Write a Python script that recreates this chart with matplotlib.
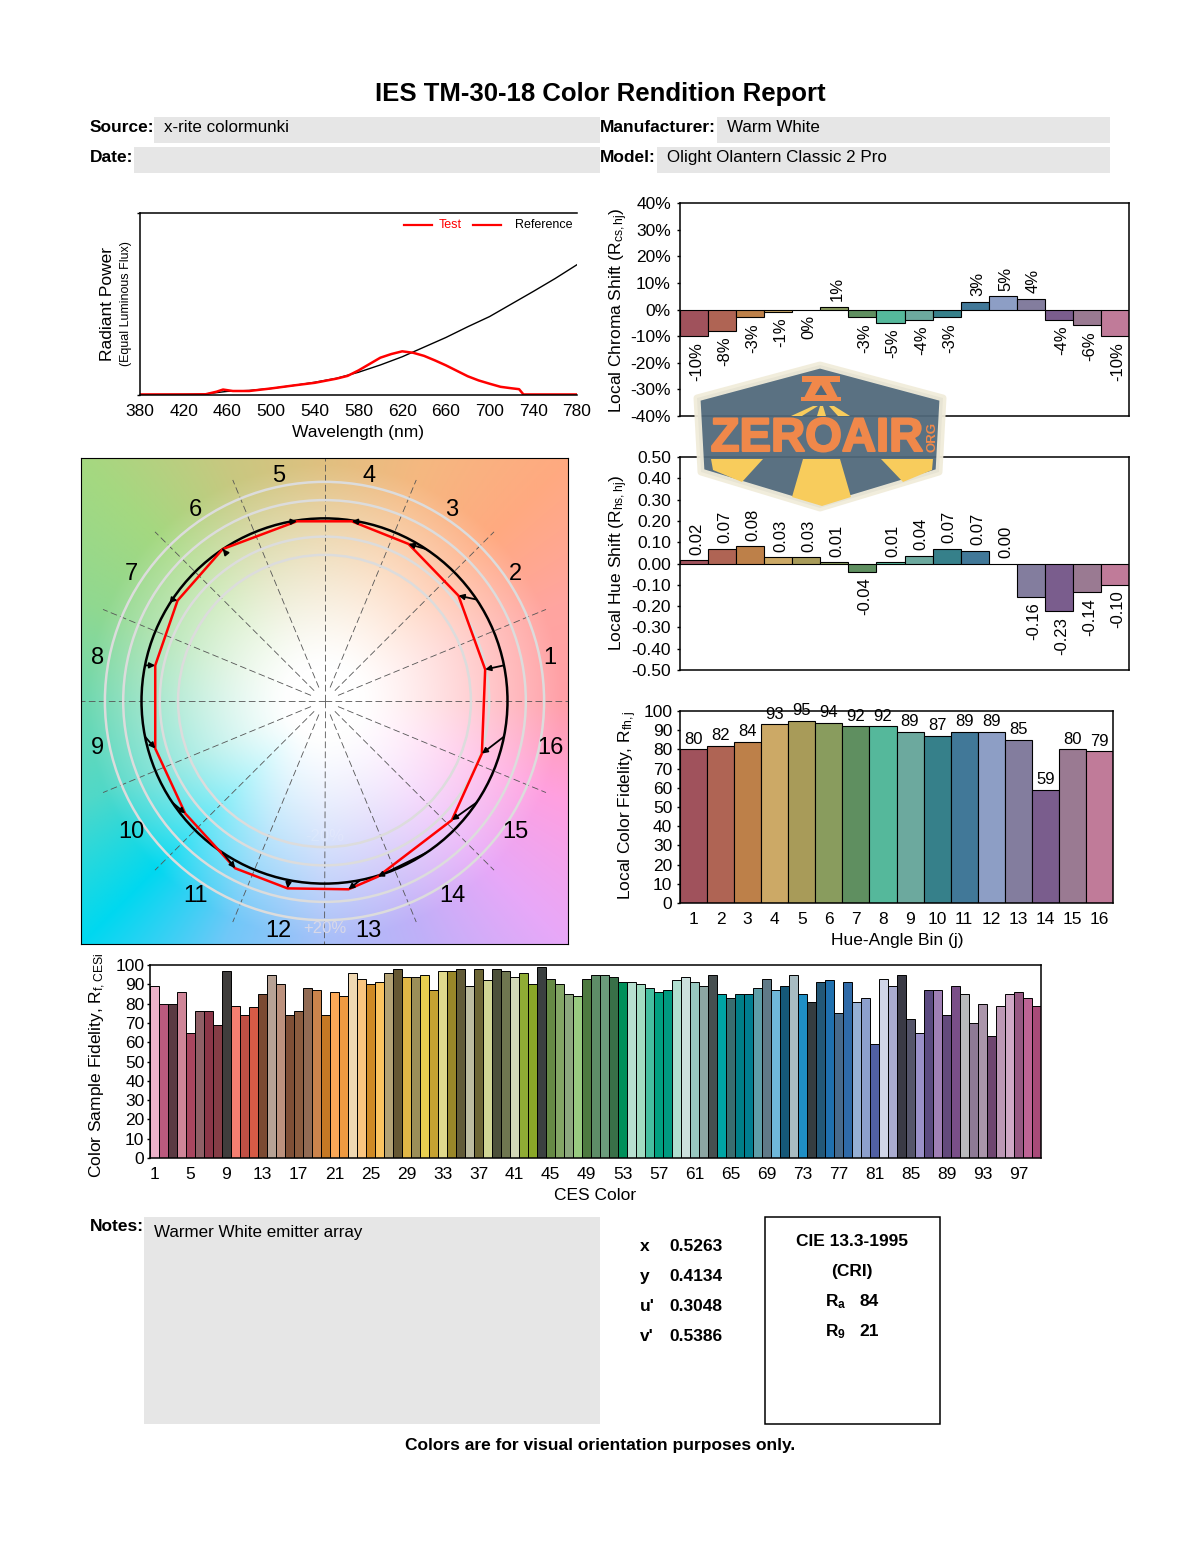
import numpy as np
import matplotlib
matplotlib.use('Agg')
import matplotlib.pyplot as plt
import matplotlib.patheffects as pe
from matplotlib.colors import to_rgb
from matplotlib.patches import Circle, Polygon, Rectangle

plt.rcParams['font.family'] = ['Liberation Sans', 'DejaVu Sans']
plt.rcParams['mathtext.fontset'] = 'custom'
plt.rcParams['mathtext.rm'] = 'Liberation Sans'
plt.rcParams['mathtext.it'] = 'Liberation Sans'
plt.rcParams['mathtext.bf'] = 'Liberation Sans:bold'
plt.rcParams['mathtext.default'] = 'regular'
plt.rcParams['axes.unicode_minus'] = False

# spectrum
ref_wl = [380, 420, 440, 460, 480, 500, 520, 540, 560, 580, 600, 620, 640, 660, 680, 700, 720, 740, 760, 780]
ref_power = [.002, .004, .006, .020, .025, .036, .052, .070, .092, .125, .165, .210, .263, .316, .375, .431, .50, .569, .640, .716]
test_wl = [380, 430, 440, 450, 456, 465, 480, 500, 520, 540, 560, 570, 580, 590, 600, 610, 620, 630, 640, 650,
           660, 670, 680, 690, 700, 710, 720, 727, 731, 780]
test_power = [.003, .003, .004, .018, .030, .022, .022, .036, .052, .067, .090, .105, .135, .170, .205, .225, .240, .232,
              .215, .190, .163, .133, .103, .080, .062, .045, .037, .032, .003, .003]

# hue bins
bins = list(range(1, 17))
bin_colors = ['#A0525C', '#AF6454', '#BD8049', '#CCA966', '#A89B59', '#899C5E', '#5F8F60', '#55B89B',
              '#6CA99E', '#36808A', '#417898', '#8D9EC5', '#837D9E', '#7A5D8D', '#9A7A92', '#C07B99']
chroma = [-10, -8, -3, -1, 0, 1, -3, -5, -4, -3, 3, 5, 4, -4, -6, -10]
hue_shift = [.015, .07, .08, .03, .03, .005, -.04, .005, .035, .07, .06, 0, -.155, -.225, -.135, -.10]
hue_labels = ['0.02', '0.07', '0.08', '0.03', '0.03', '0.01', '-0.04', '0.01', '0.04', '0.07', '0.07', '0.00',
              '-0.16', '-0.23', '-0.14', '-0.10']
local_fid = [80, 82, 84, 93, 95, 94, 92, 92, 89, 87, 89, 89, 85, 59, 80, 79]

# test gamut vertices, reference circle has radius 1
test_x = [.878, .732, .459, .149, -.151, -.556, -.803, -.925, -.925, -.761, -.488, -.202, .131, .291, .696, .860]
test_y = [.173, .577, .860, .984, .984, .832, .550, .195, -.260, -.616, -.916, -1.026, -1.031, -.962, -.652, -.288]
ring_radii = [.8, .9, 1.1, 1.2]

# 99 CES samples
ces_values = [89, 80, 80, 86, 65, 76, 76, 69, 97, 79, 74, 78, 85, 95, 90, 74, 76, 88, 87, 74, 86, 84, 96, 93, 90,
              91, 96, 98, 94, 94, 95, 87, 97, 97, 98, 89, 98, 92, 98, 97, 94, 96, 90, 99, 93, 90, 85, 84, 93, 95,
              95, 94, 91, 91, 90, 88, 86, 87, 92, 94, 91, 89, 95, 85, 83, 85, 85, 88, 93, 87, 89, 95, 85, 81, 91,
              92, 75, 91, 81, 83, 59, 93, 89, 95, 72, 65, 87, 87, 74, 89, 85, 70, 80, 63, 79, 85, 86, 83, 79]
ces_colors = ['#EDB2C9', '#BA5A7E', '#5A3A42', '#CF8598', '#A8465F', '#8F5F66', '#8B3648', '#853D46', '#3F3D3C',
              '#F57F71', '#C04F44', '#D65B46', '#7B4A33', '#B7A295', '#BC917D', '#7F4F36', '#8B5C3F', '#926B54',
              '#CC844C', '#C57824', '#FCA957', '#EF9A41', '#EFD8B2', '#FAC57F', '#CF8A25', '#FBC460', '#B3A274',
              '#665833', '#E1B746', '#9C8E58', '#E8CF50', '#C6A232', '#E0D98C', '#998729', '#625B38', '#BDBCA0',
              '#6D6635', '#D1D695', '#4C503A', '#6F7650', '#D3D8B8', '#8FAC35', '#8AA828', '#3B4040', '#668A45',
              '#83A665', '#8CA87E', '#98CB80', '#4E7A40', '#5E8D68', '#6B9B7C', '#397048', '#00905A', '#B7E0D0',
              '#A2DCC2', '#45BFA0', '#00A080', '#009A80', '#B0DFD0', '#CCE0DD', '#98C8C0', '#8CA6A3', '#464F50',
              '#00A5A5', '#3A6E70', '#007F88', '#007E90', '#5E9EA8', '#607A88', '#6FB8DA', '#155878', '#A8BCC2',
              '#1F8FC5', '#353D40', '#235878', '#1F70AF', '#476A8C', '#2F6AA8', '#96B0D5', '#8D9FCC', '#5160A3',
              '#D0D5E8', '#A9ABCF', '#3A3A45', '#55556A', '#9A90C8', '#5B4A80', '#A07FB5', '#634A7C', '#7A4F88',
              '#B9BABC', '#8E7A95', '#AA95AA', '#6F4670', '#BC98B5', '#CFA8C5', '#965882', '#BE6495', '#A84A78']

# hue wheel background, one colour per 22.5 degrees
wheel_colors = ['#FFA0A8', '#FFA5A0', '#FFAA80', '#F5B880', '#E0C080', '#C8C880', '#A5D880', '#90D890', '#70D8B0',
                '#50D8C8', '#00D8F0', '#70C8F8', '#A8C0F8', '#C0B0F8', '#E8A8F8', '#FFA0E0', '#FFA0A8']

W, H = 1200, 1550
fig = plt.figure(figsize=(W / 100, H / 100), dpi=100)


def px_axes(x0, y0, x1, y1, **kw):
    return fig.add_axes([x0 / W, 1 - y1 / H, (x1 - x0) / W, (y1 - y0) / H], **kw)


page = px_axes(0, 0, W, H)
page.set_xlim(0, W)
page.set_ylim(H, 0)
page.axis('off')


def put(x, y, s, size=12.25, ha='left', va='center', rotation=0, **kw):
    # text centres include the descent, nudge the glyphs back onto the position
    if rotation:
        x += 4
    else:
        y += 1.5
    page.text(x, y, s, fontsize=size, ha=ha, va=va, rotation=rotation, **kw)


def grey_box(x0, y0, x1, y1):
    page.add_patch(Rectangle((x0, y0), x1 - x0, y1 - y0, fc='#E6E6E6', ec='none'))


def style(ax, ypad=4.5, ticksize=12.5):
    ax.tick_params(axis='y', length=2, width=1, labelsize=ticksize, pad=ypad)
    ax.tick_params(axis='x', length=0, labelsize=ticksize, pad=6.5)
    for s in ax.spines.values():
        s.set_linewidth(1.1)


# header
put(600, 92, 'IES TM-30-18 Color Rendition Report', size=18.5, ha='center', fontweight='bold')
grey_box(154, 117, 600, 143)
grey_box(134, 147, 600, 173)
grey_box(717, 117, 1110, 143)
grey_box(657, 147, 1110, 173)
put(90, 126, 'Source:', size=12.5, fontweight='bold')
put(90, 156, 'Date:', size=12.5, fontweight='bold')
put(600, 126, 'Manufacturer:', size=12.5, fontweight='bold')
put(600, 156, 'Model:', size=12.5, fontweight='bold')
put(164, 126, 'x-rite colormunki')
put(727, 126, 'Warm White')
put(667, 156, 'Olight Olantern Classic 2 Pro')

# spectrum
ax = px_axes(140, 213, 577, 395)
ax.plot(ref_wl, ref_power, color='black', lw=1)
ax.plot(test_wl, test_power, color='#FF0000', lw=1.8)
ax.set_xlim(380, 780)
ax.set_ylim(0, 1)
ax.set_xticks(range(380, 781, 40))
ax.set_yticks([0, 1])
ax.set_yticklabels(['', ''])
style(ax)
ax.spines['right'].set_visible(False)
ax.plot([.604, .668], [.935, .935], color='#FF0000', lw=1.6, transform=ax.transAxes)
ax.plot([.761, .827], [.935, .935], color='#FF0000', lw=1.6, transform=ax.transAxes)
ax.text(.684, .935, 'Test', color='#FF0000', fontsize=9, transform=ax.transAxes, ha='left', va='center')
ax.text(.9886, .935, 'Reference', color='black', fontsize=9, transform=ax.transAxes, ha='right', va='center')
put(358, 431, 'Wavelength (nm)', size=12.5, ha='center')
put(103, 304, 'Radiant Power', size=12.5, ha='center', rotation=90)
put(122, 304, '(Equal Luminous Flux)', size=9, ha='center', rotation=90)

# gamut wheel
ax = px_axes(81, 458, 568, 944)
lim = 243.5 / 183
ax.set_xlim(-lim, lim)
ax.set_ylim(-lim, lim)
ax.set_xticks([])
ax.set_yticks([])
grid = np.linspace(-lim, lim, 300)
gx, gy = np.meshgrid(grid, grid)
rr = np.hypot(gx, gy)
theta = np.degrees(np.arctan2(gy, gx)) % 360
stops = np.arange(17) * 22.5
rgb = np.array([to_rgb(c) for c in wheel_colors])
img = np.dstack([np.interp(theta, stops, rgb[:, i]) for i in range(3)])
t = (np.clip((rr - .2) / 1.1, 0, 1) ** 1.2)[..., None]
img = 1 - t + img * t
ax.imshow(img, extent=[-lim, lim, -lim, lim], origin='lower', interpolation='bilinear', aspect='auto', zorder=0)
for r in ring_radii:
    ax.add_patch(Circle((0, 0), r, fc='none', ec='#DCDCDC', lw=1.8, zorder=2))
for k in range(16):
    a = np.radians(k * 22.5)
    start = 0 if k % 4 == 0 else .08
    end = 1.33 if k % 4 == 0 else 1.31
    ax.plot([start * np.cos(a), end * np.cos(a)], [start * np.sin(a), end * np.sin(a)],
            color='#555555', lw=.6, ls=(0, (8, 4)), zorder=1)
ax.add_patch(Circle((0, 0), 1, fc='none', ec='black', lw=1.8, zorder=3))
ax.add_patch(Polygon(np.column_stack([test_x, test_y]), closed=True, fc='none', ec='#FF0000', lw=1.8, zorder=4))
for k, b in enumerate(bins):
    a = np.radians(11.25 + 22.5 * k)
    ax.annotate('', xy=(test_x[k], test_y[k]), xytext=(np.cos(a), np.sin(a)), zorder=5,
                arrowprops=dict(arrowstyle='-|>', color='black', lw=1.3, mutation_scale=8, shrinkA=0, shrinkB=0))
    ax.text(1.262 * np.cos(a) - .005, 1.27 * np.sin(a) - .012, str(b), fontsize=17, ha='center', va='center', zorder=6)
ax.text(0, -1.245, '+20%', color='#D8D8E8', fontsize=12, ha='center', va='center', zorder=6)
ax.text(0, -.74, '-20%', color='white', alpha=.15, fontsize=12, ha='center', va='center', zorder=2)
put(85, 474, '87', size=20.5, fontweight='bold')
put(85, 498, 'R$_{f}$', size=17)
put(558, 474, '95', size=20.5, fontweight='bold', ha='right')
put(553, 498, 'R$_{g}$', size=17, ha='right')
put(85, 901, 'CCT', size=17)
put(85, 930, '2003 K', size=20.5, fontweight='bold')
put(553, 903, 'D$_{uv}$', size=17, ha='right')
put(558, 930, '0.0000', size=20.5, fontweight='bold', ha='right')

# chroma shift
ax = px_axes(680, 203, 1129, 416)
ax.bar(bins, chroma, width=1, color=bin_colors, edgecolor='black', lw=.8)
ax.set_xlim(.5, 16.5)
ax.set_ylim(-40, 40)
ax.set_xticks([])
ax.set_yticks(range(-40, 41, 10))
ax.set_yticklabels(['%d%%' % v for v in range(-40, 41, 10)])
style(ax, ypad=4.5)
for b, v in zip(bins, chroma):
    up = v > 0
    ax.annotate('%d%%' % v, (b, v), xytext=(2, 4 if up else -4), textcoords='offset points', rotation=90,
                ha='center', va='bottom' if up else 'top', fontsize=12,
                bbox=dict(fc='white', ec='none', pad=1) if b == 16 else None, zorder=5)
put(615, 310, 'Local Chroma Shift (R$_{cs,hj}$)', size=12.5, ha='center', rotation=90)

# hue shift
ax = px_axes(680, 457, 1129, 670)
ax.bar(bins, hue_shift, width=1, color=bin_colors, edgecolor='black', lw=.8)
ax.set_xlim(.5, 16.5)
ax.set_ylim(-.5, .5)
ax.set_xticks([])
ax.set_yticks(np.arange(-5, 6) / 10)
ax.set_yticklabels(['%.2f' % (v / 10) for v in range(-5, 6)])
style(ax, ypad=4.5)
for b, v, s in zip(bins, hue_shift, hue_labels):
    up = v >= 0
    ax.annotate(s, (b, v), xytext=(2, 4 if up else -4), textcoords='offset points', rotation=90,
                ha='center', va='bottom' if up else 'top', fontsize=12,
                bbox=dict(fc='white', ec='none', pad=1) if b == 16 else None, zorder=5)
put(615, 563, 'Local Hue Shift (R$_{hs,hj}$)', size=12.5, ha='center', rotation=90)

# local fidelity
ax = px_axes(680, 711, 1113, 903)
ax.bar(bins, local_fid, width=1, color=bin_colors, edgecolor='black', lw=.8)
ax.set_xlim(.5, 16.5)
ax.set_ylim(0, 100)
ax.set_xticks(bins)
ax.set_yticks(range(0, 101, 10))
style(ax, ypad=3.5)
for b, v in zip(bins, local_fid):
    ax.annotate(str(v), (b, v), xytext=(0, 2), textcoords='offset points', ha='center', va='bottom', fontsize=12)
put(624, 805, 'Local Color Fidelity, R$_{fh,j}$', size=12.5, ha='center', rotation=90)
put(897, 939, 'Hue-Angle Bin (j)', size=12.5, ha='center')

# CES fidelity
ces_x = list(range(1, 100))
ax = px_axes(150, 965, 1041, 1158)
ax.bar(ces_x, ces_values, width=1, color=ces_colors, edgecolor='black', lw=.7)
ax.set_xlim(.5, 99.5)
ax.set_ylim(0, 100)
ax.set_xticks(range(1, 98, 4))
ax.set_yticks(range(0, 101, 10))
style(ax, ypad=2)
put(94, 1065, 'Color Sample Fidelity, R$_{f,CESi}$', size=12.5, ha='center', rotation=90)
put(595, 1194, 'CES Color', size=12.5, ha='center')

# notes
put(90, 1225, 'Notes:', size=12.5, fontweight='bold')
grey_box(144, 1217, 600, 1424)
put(154, 1231, 'Warmer White emitter array')
for y, name, val in zip([1245, 1275, 1305, 1335], ['x', 'y', "u'", "v'"], ['0.5263', '0.4134', '0.3048', '0.5386']):
    put(640, y, name, size=12.5, fontweight='bold')
    put(669, y, val, size=12.5, fontweight='bold')
page.add_patch(Rectangle((765, 1217), 175, 207, fc='white', ec='black', lw=1.1))
put(852, 1240, 'CIE 13.3-1995', size=12.5, ha='center', fontweight='bold')
put(852, 1270, '(CRI)', size=12.5, ha='center', fontweight='bold')
put(825, 1300, 'R$_{\\mathbf{a}}$', size=12.5, fontweight='bold')
put(859, 1300, '84', size=12.5, fontweight='bold')
put(825, 1330, 'R$_{\\mathbf{9}}$', size=12.5, fontweight='bold')
put(859, 1330, '21', size=12.5, fontweight='bold')
put(600, 1444, 'Colors are for visual orientation purposes only.', size=12.5, ha='center', fontweight='bold')

# watermark logo on top of the charts
logo = px_axes(0, 0, W, H)
logo.set_xlim(0, W)
logo.set_ylim(H, 0)
logo.axis('off')
logo.patch.set_alpha(0)
logo.set_zorder(10)
logo.add_patch(Polygon([(820, 365), (943, 398), (939, 472), (820, 508), (701, 472), (697, 398)], closed=True,
                       fc='#50687A', ec='#F1ECDA', lw=5, joinstyle='round', alpha=.94))
for pts in [[(803, 459), (840, 459), (851, 497), (822, 506), (792, 497)],
            [(711, 459), (763, 459), (742, 482), (713, 470)],
            [(881, 459), (933, 459), (932, 470), (903, 482)],
            [(791, 416), (813, 406), (818, 406), (802, 416)],
            [(817, 416), (820, 406), (823, 406), (826, 416)],
            [(829, 406), (834, 406), (850, 416), (838, 416)]]:
    logo.add_patch(Polygon(pts, closed=True, fc='#F8CC5C', ec='none'))
for pts in [[(802, 376), (840, 376), (840, 382), (802, 382)],
            [(801, 397), (841, 397), (841, 401), (801, 401)],
            [(812, 382), (830, 382), (838, 398), (804, 398)]]:
    logo.add_patch(Polygon(pts, closed=True, fc='#F0884A', ec='none'))
logo.add_patch(Polygon([(821, 385), (827, 395), (815, 395)], closed=True, fc='#50687A', ec='none'))
logo.text(817, 439, 'ZEROAIR', color='#F0884A', fontsize=34, fontweight='bold', ha='center', va='center',
          path_effects=[pe.withStroke(linewidth=1.5, foreground='#F0884A')])
logo.text(933, 437, 'ORG', color='#F0884A', fontsize=9.5, fontweight='bold', ha='center', va='center', rotation=90)

fig.savefig('out.png', dpi=100, facecolor='white')
